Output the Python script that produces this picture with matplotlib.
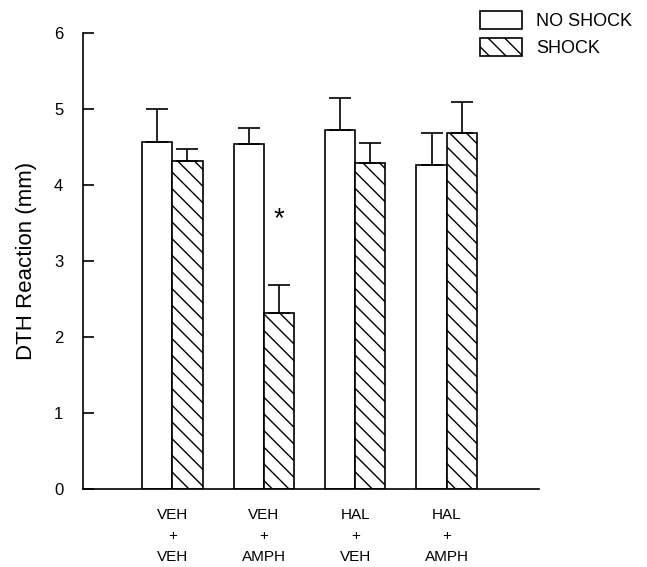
import matplotlib
matplotlib.use('Agg')
import matplotlib.pyplot as plt
import numpy as np

plt.rcParams['font.family'] = ['Liberation Sans', 'DejaVu Sans']
plt.rcParams['hatch.linewidth'] = 1.0

groups = ['VEH\n+\nVEH', 'VEH\n+\nAMPH', 'HAL\n+\nVEH', 'HAL\n+\nAMPH']
no_shock = [4.56, 4.54, 4.73, 4.26]
no_shock_err = [0.44, 0.21, 0.42, 0.43]
shock = [4.32, 2.31, 4.29, 4.69]
shock_err = [0.16, 0.37, 0.26, 0.40]

x = np.arange(1, len(groups) + 1)
w = 0.33

fig = plt.figure(figsize=(6.47, 5.67), dpi=100)
ax = fig.add_axes([0.128, 0.1376, 0.705, 0.8042])

b1 = ax.bar(x - w / 2, no_shock, w, color='white', edgecolor='black', linewidth=1.2,
            yerr=[np.zeros(4), no_shock_err], capsize=8,
            error_kw=dict(elinewidth=1.2, capthick=1.2, ecolor='black'), label='NO SHOCK')
b2 = ax.bar(x + w / 2, shock, w, color='white', edgecolor='black', linewidth=1.2, hatch='\\\\',
            yerr=[np.zeros(4), shock_err], capsize=8,
            error_kw=dict(elinewidth=1.2, capthick=1.2, ecolor='black'), label='SHOCK')

ax.text(x[1] + 0.16, 3.55, '*', ha='center', va='center', fontsize=20)

ax.set_xlim(0.02, 5.01)
ax.set_ylim(0, 6)
ax.set_yticks(range(0, 7))
ax.tick_params(axis='y', direction='in', length=8, width=1.2, labelsize=12, pad=14)
ax.set_xticks(x)
ax.set_xticklabels(groups, fontsize=11, linespacing=1.6)
ax.tick_params(axis='x', length=0, pad=14)
ax.spines['top'].set_visible(False)
ax.spines['right'].set_visible(False)
ax.spines['left'].set_linewidth(1.2)
ax.spines['bottom'].set_linewidth(1.2)
ax.set_ylabel('DTH Reaction (mm)', fontsize=16, labelpad=12)

fig.legend(handles=[b1, b2], loc='upper left', bbox_to_anchor=(0.742, 0.98),
           frameon=False, fontsize=13, handlelength=2.3, handleheight=1.1,
           handletextpad=0.8, labelspacing=0.45, borderaxespad=0, borderpad=0)

fig.savefig('out.png', dpi=100)
